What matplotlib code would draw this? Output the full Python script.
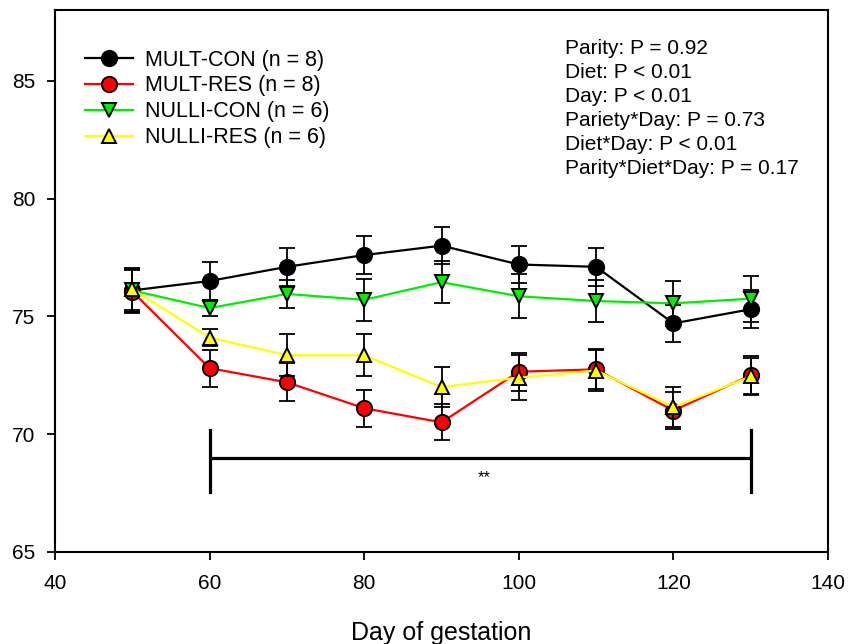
import numpy as np
import matplotlib.pyplot as plt

plt.rcParams['font.family'] = ['Liberation Sans', 'DejaVu Sans']

# Day of gestation
days = [50, 60, 70, 80, 90, 100, 110, 120, 130]

# Means and SE for each group
mult_con = [76.1, 76.5, 77.1, 77.6, 78.0, 77.2, 77.1, 74.7, 75.3]
mult_con_se = [0.9, 0.8, 0.8, 0.8, 0.8, 0.8, 0.8, 0.8, 0.8]
mult_res = [76.05, 72.8, 72.2, 71.1, 70.5, 72.65, 72.75, 71.0, 72.5]
mult_res_se = [0.9, 0.78, 0.8, 0.78, 0.76, 0.8, 0.85, 0.8, 0.8]
nulli_con = [76.1, 75.35, 75.95, 75.7, 76.45, 75.85, 75.65, 75.55, 75.75]
nulli_con_se = [0.9, 0.35, 0.6, 0.9, 0.9, 0.93, 0.9, 0.95, 0.98]
nulli_res = [76.15, 74.1, 73.35, 73.35, 72.0, 72.4, 72.7, 71.15, 72.45]
nulli_res_se = [0.9, 0.38, 0.88, 0.9, 0.85, 0.95, 0.85, 0.85, 0.8]

stats_text = ["Parity: P = 0.92", "Diet: P < 0.01", "Day: P < 0.01",
              "Pariety*Day: P = 0.73", "Diet*Day: P < 0.01",
              "Parity*Diet*Day: P = 0.17"]

fig = plt.figure(figsize=(8.49, 6.44), dpi=100)
ax = fig.add_axes([0.0648, 0.1429, 0.9105, 0.8416])

groups = [
    ("MULT-CON (n = 8)", mult_con, mult_con_se, "black", "o", 11),
    ("MULT-RES (n = 8)", mult_res, mult_res_se, "red", "o", 11),
    ("NULLI-CON (n = 6)", nulli_con, nulli_con_se, "#00ee00", "v", 10),
    ("NULLI-RES (n = 6)", nulli_res, nulli_res_se, "yellow", "^", 10),
]

for name, vals, se, col, mk, ms in groups:
    ax.errorbar(days, vals, yerr=se, fmt="none", ecolor="black",
                elinewidth=1.3, capsize=5.5, capthick=1.3)
    ax.plot(days, vals, color=col, lw=1.6, marker=mk, ms=ms,
            mfc=col, mec="black", mew=1.4, label=name)

# significance bracket
ax.plot([60, 130], [69.0, 69.0], color="black", lw=2.3, solid_capstyle="butt")
ax.plot([60, 60], [67.55, 70.18], color="black", lw=2.3)
ax.plot([130, 130], [67.55, 70.18], color="black", lw=2.3)
ax.text(95.5, 68.15, "**", ha="center", va="center", fontsize=12)

ax.text(106.0, 86.75, "\n".join(stats_text), ha="left", va="top",
        fontsize=15, linespacing=1.33)

ax.set_xlim(40, 140)
ax.set_ylim(65, 88)
ax.set_xticks([40, 60, 80, 100, 120, 140])
ax.set_yticks([65, 70, 75, 80, 85])
ax.tick_params(labelsize=15, width=1.3, length=5.5, direction="out")
ax.tick_params(axis="x", pad=10.5)
ax.tick_params(axis="y", pad=8.5)
for s in ax.spines.values():
    s.set_linewidth(1.5)
ax.set_xlabel("Day of gestation", fontsize=18, labelpad=20)

ax.legend(loc="upper left", bbox_to_anchor=(0.039, 0.927), frameon=False,
          fontsize=15.5, handlelength=2.2, handletextpad=0.6,
          labelspacing=0.23, borderaxespad=0, borderpad=0)

fig.savefig("out.png", dpi=100)
